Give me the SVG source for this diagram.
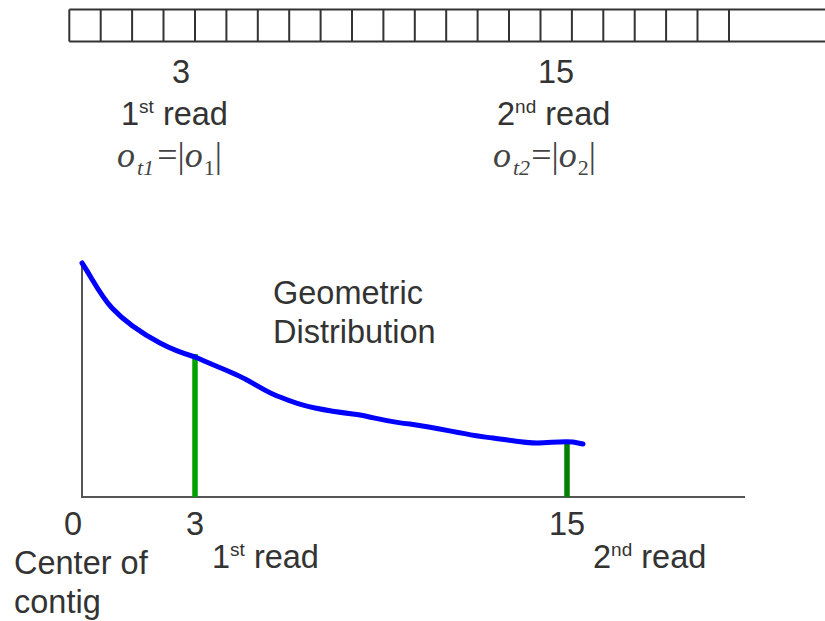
<svg xmlns="http://www.w3.org/2000/svg" width="825" height="621" viewBox="0 0 825 621">
<style>
.t{font-family:"Liberation Sans",Arial,sans-serif;font-size:32.5px;fill:#333}
.m{font-family:"Liberation Serif","Times New Roman",serif;font-size:36px;fill:#444}
.i{font-style:italic}
.cell{fill:none;stroke:#333;stroke-width:2}
.axis{stroke:#555;stroke-width:2;fill:none}
</style>
<rect width="825" height="621" fill="#fff"/>
<g id="array">
<path class="cell" d="M69.3 9.5 H826 M69.3 41.5 H826 M69.3 9.5 V41.5 M100.7 9.5 V41.5 M132.1 9.5 V41.5 M163.5 9.5 V41.5 M195 9.5 V41.5 M226.4 9.5 V41.5 M257.8 9.5 V41.5 M289.2 9.5 V41.5 M320.6 9.5 V41.5 M352 9.5 V41.5 M383.4 9.5 V41.5 M414.8 9.5 V41.5 M446.2 9.5 V41.5 M477.6 9.5 V41.5 M509 9.5 V41.5 M540.5 9.5 V41.5 M571.9 9.5 V41.5 M603.3 9.5 V41.5 M634.7 9.5 V41.5 M666.1 9.5 V41.5 M697.5 9.5 V41.5 M729 9.5 V41.5"/>
</g>
<g id="top-read1">
<text class="t" x="181" y="83" text-anchor="middle">3</text>
<text class="t" x="121" y="125">1<tspan font-size="19" dy="-12">st</tspan><tspan dy="12"> read</tspan></text>
<text class="m" x="117" y="167"><tspan class="i">o</tspan><tspan class="i" font-size="22" dx="2" dy="8">t1</tspan><tspan dx="3" dy="-8">=|</tspan><tspan class="i">o</tspan><tspan font-size="22" dx="1" dy="8">1</tspan><tspan dy="-8">|</tspan></text>
</g>
<g id="top-read2">
<text class="t" x="556" y="83" text-anchor="middle">15</text>
<text class="t" x="497" y="125">2<tspan font-size="19" dy="-12">nd</tspan><tspan dy="12"> read</tspan></text>
<text class="m" x="493" y="167"><tspan class="i">o</tspan><tspan class="i" font-size="22" dx="2" dy="8">t2</tspan><tspan dx="1" dy="-8">=|</tspan><tspan class="i">o</tspan><tspan font-size="22" dx="1" dy="8">2</tspan><tspan dy="-8">|</tspan></text>
</g>
<g id="axes">
<path class="axis" d="M82 264 V497 H745"/>
</g>
<g id="connectors">
<line x1="195" y1="354" x2="195" y2="497" stroke="#00a000" stroke-width="5.5"/>
<line x1="567" y1="443" x2="567" y2="497" stroke="#008000" stroke-width="5.5"/>
</g>
<g id="curve">
<path d="M82 263 C92 278 100 295 112 308 C125 322 145 335 160 343 C175 351 185 354 195 357 C215 366 235 373 247 380 C260 387 268 393 280 397 C292 402 300 405 315 408 C335 412 345 413 360 415 C380 419 395 423 410 424 C440 428 470 436 493 438 C510 440 525 443 537 443 C550 443 560 441 573 442 L583 444" fill="none" stroke="#0000ff" stroke-width="5" stroke-linecap="round"/>
</g>
<g id="label-geometric">
<text class="t" x="273" y="304">Geometric</text>
<text class="t" x="273" y="343">Distribution</text>
</g>
<g id="x-labels">
<text class="t" x="73" y="535" text-anchor="middle">0</text>
<text class="t" x="195" y="535" text-anchor="middle">3</text>
<text class="t" x="567" y="535" text-anchor="middle">15</text>
<text class="t" x="14" y="574">Center of</text>
<text class="t" x="14" y="613">contig</text>
<text class="t" x="212" y="568">1<tspan font-size="19" dy="-12">st</tspan><tspan dy="12"> read</tspan></text>
<text class="t" x="593" y="568">2<tspan font-size="19" dy="-12">nd</tspan><tspan dy="12"> read</tspan></text>
</g>
</svg>
